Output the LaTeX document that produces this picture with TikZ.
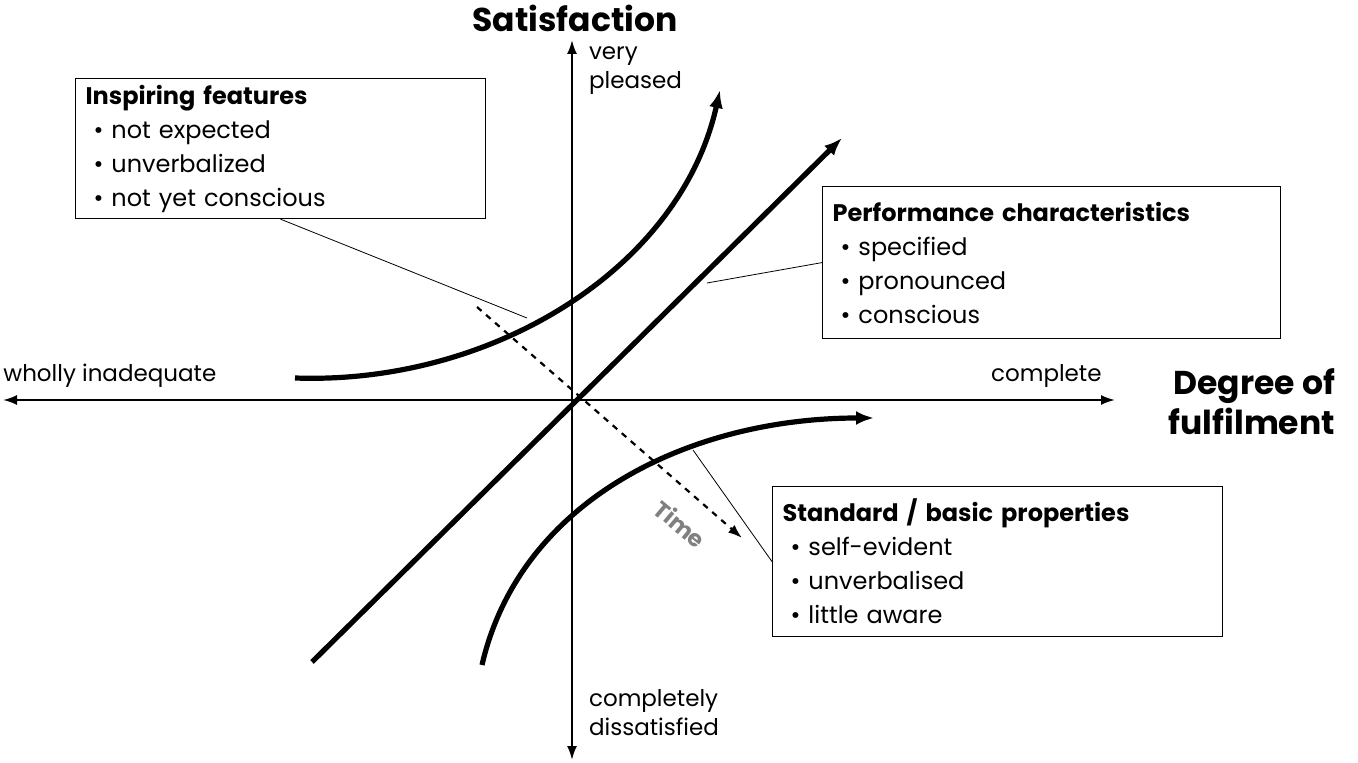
\documentclass[tikz,border=0pt]{standalone}
\usepackage{fontspec}
\setmainfont{Poppins}
\usetikzlibrary{arrows.meta}
\begin{document}
\begin{tikzpicture}[x=0.5pt,y=-0.5pt,
  axis/.style={line width=1pt},
  thick curve/.style={line width=2.6pt,-{Latex[length=9pt,width=7pt]}},
  thin link/.style={line width=0.4pt},
  box/.style={draw,line width=0.6pt,anchor=north west,align=left,inner xsep=5pt,inner ysep=3pt,font=\fontsize{12}{17}\selectfont},
  lbl/.style={font=\fontsize{11.5}{14.5}\selectfont,align=left},
  title/.style={font=\bfseries\fontsize{16.5}{20}\selectfont}]
\useasboundingbox (0,0) rectangle (1358,763);
\coordinate (L) at (3,400); \coordinate (R) at (1115,400);
\coordinate (T) at (572,40); \coordinate (B) at (572,760);
\draw[axis,{Latex[length=7pt,width=5pt]}-{Latex[length=7pt,width=5pt]}] (L) -- (R);
\draw[axis,{Latex[length=7pt,width=5pt]}-{Latex[length=7pt,width=5pt]}] (B) -- (T);
\node[title] (sat) at (575,18) {Satisfaction};
\node[lbl,anchor=north west] (vp) at (582,40) {very\\pleased};
\node[lbl,anchor=north west] (cd) at (582,682) {completely\\dissatisfied};
\node[lbl,anchor=south west,inner sep=0pt] (wi) at (3,388) {wholly inadequate};
\node[lbl,anchor=south east,inner sep=0pt] (cp) at (1102,388) {complete};
\node[title,align=right,anchor=east] (deg) at (1342,402) {Degree of\\fulfilment};
\coordinate (d1) at (312,662); \coordinate (d2) at (842,138);
\draw[thick curve] (d1) -- (d2);
\coordinate (u1) at (295,378); \coordinate (u2) at (720,90);
\draw[thick curve] (u1) .. controls (490,385) and (680,270) .. (u2);
\coordinate (w1) at (482,665); \coordinate (w2) at (874,418);
\draw[thick curve] (w1) .. controls (520,500) and (690,418) .. (w2);
\coordinate (t1) at (477,307); \coordinate (t2) at (742,538);
\draw[line width=1.1pt,dashed,-{Latex[length=7pt,width=5pt]}] (t1) -- (t2);
\node[font=\bfseries\fontsize{11.5}{12}\selectfont,text=gray,rotate=-40] (time) at (680,524) {Time};
\node[box,text width=195pt,minimum height=70pt] (b1) at (75,78) {\textbf{Inspiring features}\\ \ \textbullet\ not expected\\ \ \textbullet\ unverbalized\\ \ \textbullet\ not yet conscious};
\node[box,text width=219pt,minimum height=76pt] (b2) at (822,186) {\textbf{Performance characteristics}\\ \ \textbullet\ specified\\ \ \textbullet\ pronounced\\ \ \textbullet\ conscious};
\node[box,text width=215pt,minimum height=75pt] (b3) at (772,486) {\textbf{Standard / basic properties}\\ \ \textbullet\ self-evident\\ \ \textbullet\ unverbalised\\ \ \textbullet\ little aware};
\coordinate (c1) at (527,318); \coordinate (c2) at (707,283); \coordinate (c3) at (693,450);
\draw[thin link] (b1.south) -- (c1);
\draw[thin link] (b2.west) -- (c2);
\draw[thin link] (b3.west) -- (c3);
\end{tikzpicture}
\end{document}
